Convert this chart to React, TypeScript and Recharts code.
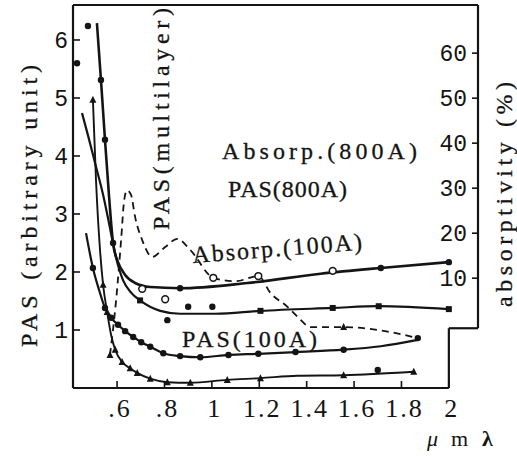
import React from 'react';
import { ComposedChart, Line, Scatter, XAxis, YAxis, ReferenceLine } from 'recharts';

type P = { x: number; y: number };

// ---- tick values / labels ----
const xTicks = [0.6, 0.8, 1, 1.2, 1.4, 1.6, 1.8, 2];
const xTickLabels = ['.6', '.8', '1', '1.2', '1.4', '1.6', '1.8', '2'];
const pasTicks = [1, 2, 3, 4, 5, 6];
const absTicks = [10, 20, 30, 40, 50, 60];

// ---- curves (x = wavelength µm, y = PAS arbitrary unit) ----
const curveTop: P[] = [
  { x: 0.515, y: 6.29 }, { x: 0.532, y: 5.31 }, { x: 0.549, y: 4.28 }, { x: 0.566, y: 3.31 },
  { x: 0.583, y: 2.5 }, { x: 0.604, y: 2.17 }, { x: 0.634, y: 1.95 }, { x: 0.676, y: 1.81 },
  { x: 0.74, y: 1.74 }, { x: 0.866, y: 1.72 }, { x: 1.15, y: 1.81 }, { x: 1.459, y: 1.97 },
  { x: 1.713, y: 2.07 }, { x: 2.0, y: 2.17 },
];
const curveMid: P[] = [
  { x: 0.452, y: 4.74 }, { x: 0.477, y: 4.36 }, { x: 0.507, y: 3.88 }, { x: 0.541, y: 3.33 },
  { x: 0.57, y: 2.76 }, { x: 0.596, y: 2.24 }, { x: 0.625, y: 1.86 }, { x: 0.66, y: 1.64 },
  { x: 0.697, y: 1.51 }, { x: 0.782, y: 1.33 }, { x: 0.866, y: 1.28 }, { x: 1.015, y: 1.28 },
  { x: 1.205, y: 1.33 }, { x: 1.51, y: 1.38 }, { x: 1.704, y: 1.41 }, { x: 2.0, y: 1.36 },
];
const curvePas100: P[] = [
  { x: 0.469, y: 2.67 }, { x: 0.498, y: 2.07 }, { x: 0.524, y: 1.69 }, { x: 0.549, y: 1.38 },
  { x: 0.575, y: 1.21 }, { x: 0.604, y: 1.09 }, { x: 0.634, y: 0.98 }, { x: 0.668, y: 0.88 },
  { x: 0.702, y: 0.79 }, { x: 0.74, y: 0.71 }, { x: 0.795, y: 0.6 }, { x: 0.866, y: 0.55 },
  { x: 0.951, y: 0.53 }, { x: 1.07, y: 0.57 }, { x: 1.196, y: 0.59 }, { x: 1.353, y: 0.62 },
  { x: 1.556, y: 0.66 }, { x: 1.713, y: 0.72 }, { x: 1.869, y: 0.83 },
];
const curveBottom: P[] = [
  { x: 0.498, y: 4.97 }, { x: 0.511, y: 3.59 }, { x: 0.528, y: 2.38 }, { x: 0.541, y: 1.78 },
  { x: 0.558, y: 1.31 }, { x: 0.575, y: 0.91 }, { x: 0.592, y: 0.66 }, { x: 0.621, y: 0.45 },
  { x: 0.655, y: 0.34 }, { x: 0.685, y: 0.26 }, { x: 0.74, y: 0.16 }, { x: 0.812, y: 0.1 },
  { x: 0.909, y: 0.09 }, { x: 1.065, y: 0.14 }, { x: 1.205, y: 0.17 }, { x: 1.361, y: 0.21 },
  { x: 1.556, y: 0.22 }, { x: 1.852, y: 0.28 },
];
const curveMultilayer: P[] = [
  { x: 0.57, y: 0.57 }, { x: 0.596, y: 1.52 }, { x: 0.617, y: 2.55 }, { x: 0.63, y: 3.24 },
  { x: 0.642, y: 3.41 }, { x: 0.659, y: 3.33 }, { x: 0.676, y: 2.95 }, { x: 0.706, y: 2.55 },
  { x: 0.748, y: 2.26 }, { x: 0.803, y: 2.43 }, { x: 0.854, y: 2.57 }, { x: 0.909, y: 2.38 },
  { x: 1.006, y: 1.9 }, { x: 1.099, y: 1.84 }, { x: 1.196, y: 1.93 }, { x: 1.247, y: 1.64 },
  { x: 1.319, y: 1.4 }, { x: 1.366, y: 1.21 }, { x: 1.416, y: 1.05 }, { x: 1.556, y: 1.05 },
  { x: 1.7, y: 1.0 }, { x: 1.869, y: 0.86 },
];

// ---- marker points ----
const dotsFilled: P[] = [
  { x: 0.477, y: 6.24 }, { x: 0.431, y: 5.6 }, { x: 0.532, y: 5.31 }, { x: 0.549, y: 4.28 },
  { x: 0.583, y: 2.5 }, { x: 0.866, y: 1.72 }, { x: 1.713, y: 2.07 }, { x: 2.0, y: 2.17 },
  { x: 0.812, y: 1.17 }, { x: 0.9, y: 1.4 }, { x: 1.002, y: 1.4 }, { x: 1.7, y: 0.31 },
  { x: 0.498, y: 2.07 }, { x: 0.549, y: 1.38 }, { x: 0.575, y: 1.21 }, { x: 0.604, y: 1.09 },
  { x: 0.634, y: 0.98 }, { x: 0.668, y: 0.88 }, { x: 0.702, y: 0.79 }, { x: 0.74, y: 0.71 },
  { x: 0.795, y: 0.6 }, { x: 0.866, y: 0.55 }, { x: 0.951, y: 0.53 }, { x: 1.07, y: 0.57 },
  { x: 1.196, y: 0.59 }, { x: 1.353, y: 0.62 }, { x: 1.556, y: 0.66 }, { x: 1.869, y: 0.86 },
];
const dotsOpen: P[] = [
  { x: 1.51, y: 2.02 }, { x: 0.706, y: 1.71 }, { x: 0.803, y: 1.53 }, { x: 1.006, y: 1.9 },
  { x: 1.196, y: 1.93 },
];
const squaresMid: P[] = [
  { x: 0.697, y: 1.51 }, { x: 1.205, y: 1.33 }, { x: 1.51, y: 1.38 }, { x: 1.704, y: 1.41 },
  { x: 2.0, y: 1.36 },
];
const trianglesBottom: P[] = [
  { x: 0.498, y: 4.97 }, { x: 0.541, y: 1.78 }, { x: 0.558, y: 1.31 }, { x: 0.592, y: 0.66 },
  { x: 0.621, y: 0.45 }, { x: 0.655, y: 0.34 }, { x: 0.685, y: 0.26 }, { x: 0.74, y: 0.16 },
  { x: 0.812, y: 0.1 }, { x: 0.909, y: 0.09 }, { x: 1.065, y: 0.14 }, { x: 1.205, y: 0.17 },
  { x: 1.556, y: 0.22 }, { x: 1.852, y: 0.28 }, { x: 0.57, y: 0.57 }, { x: 1.556, y: 1.05 },
];

// ---- axis extents ----
const X_MIN = 0.414;
const X_MAX = 2.123;
const X_NOTCH = 2;
const PAS_MAX = 6.603;
const ABS_MIN = -14.4;
const ABS_MAX = 70.7;
const NOTCH_PAS = 1.03;

const ink = '#141414';
const mono = '"Liberation Mono", "DejaVu Sans Mono", monospace';
const serif = '"Liberation Serif", "DejaVu Serif", serif';

function LeftTick(props: any) {
  const { x, y, payload } = props;
  return (
    <g>
      <line x1={x} x2={x + 7} y1={y} y2={y} stroke={ink} strokeWidth={1.6} />
      <text x={x - 5} y={y} dy="0.36em" textAnchor="end" fontFamily={mono} fontSize={23} fill={ink}>
        {payload.value}
      </text>
    </g>
  );
}

function RightTick(props: any) {
  const { x, y, payload } = props;
  return (
    <g>
      <line x1={x - 6} x2={x + 1} y1={y} y2={y} stroke={ink} strokeWidth={1.6} />
      <text x={x - 11} y={y} dy="0.36em" textAnchor="end" fontFamily={mono} fontSize={23} fill={ink}>
        {payload.value}
      </text>
    </g>
  );
}

function BottomTick(props: any) {
  const { x, y, payload } = props;
  const i = xTicks.indexOf(payload.value);
  const label = i >= 0 ? xTickLabels[i] : String(payload.value);
  return (
    <g>
      <line x1={x} x2={x} y1={y - 7} y2={y} stroke={ink} strokeWidth={1.6} />
      <text x={x + 3} y={y + 29} textAnchor="middle" fontFamily={serif} fontSize={26} letterSpacing={2} fill={ink}>
        {label}
      </text>
    </g>
  );
}

const dotShape = (p: any) => <circle cx={p.cx} cy={p.cy} r={3.2} fill={ink} />;
const openShape = (p: any) => <circle cx={p.cx} cy={p.cy} r={3.4} fill="#fff" stroke={ink} strokeWidth={1.5} />;
const squareShape = (p: any) => <rect x={p.cx - 3} y={p.cy - 3} width={6} height={6} fill={ink} />;
const triShape = (p: any) => (
  <path d={`M${p.cx},${p.cy - 4} L${p.cx + 3.5},${p.cy + 3} L${p.cx - 3.5},${p.cy + 3} Z`} fill={ink} />
);

const lineCommon = {
  xAxisId: 'x',
  yAxisId: 'pas',
  dataKey: 'y',
  type: 'monotone' as const,
  stroke: ink,
  dot: false,
  activeDot: false,
  isAnimationActive: false,
};

const frame = { stroke: ink, strokeWidth: 2.2, xAxisId: 'x', yAxisId: 'pas', ifOverflow: 'visible' as const };

const lbl = { lengthAdjust: 'spacing' as const };

export default function App() {
  return (
    <div style={{ position: 'absolute', left: 0, top: 0, width: 517, height: 463, background: '#fff' }}>
      <ComposedChart width={517} height={463} margin={{ top: 5, right: 0, bottom: 0, left: 0 }}>
        <XAxis
          xAxisId="x"
          dataKey="x"
          type="number"
          domain={[X_MIN, X_MAX]}
          allowDataOverflow
          ticks={xTicks}
          interval={0}
          height={75}
          axisLine={false}
          tickLine={false}
          tickSize={0}
          tickMargin={0}
          tick={<BottomTick />}
        />
        <YAxis
          yAxisId="pas"
          dataKey="y"
          type="number"
          domain={[0, PAS_MAX]}
          allowDataOverflow
          ticks={pasTicks}
          interval={0}
          width={73}
          axisLine={{ stroke: ink, strokeWidth: 2.2 }}
          tickLine={false}
          tickSize={0}
          tickMargin={0}
          tick={<LeftTick />}
        />
        <YAxis
          yAxisId="abs"
          orientation="right"
          type="number"
          domain={[ABS_MIN, ABS_MAX]}
          allowDataOverflow
          ticks={absTicks}
          interval={0}
          width={39}
          axisLine={false}
          tickLine={false}
          tickSize={0}
          tickMargin={0}
          tick={<RightTick />}
        />

        <ReferenceLine {...frame} segment={[{ x: X_MIN, y: PAS_MAX }, { x: X_MAX, y: PAS_MAX }]} />
        <ReferenceLine {...frame} segment={[{ x: X_MAX, y: NOTCH_PAS }, { x: X_MAX, y: PAS_MAX }]} />
        <ReferenceLine {...frame} segment={[{ x: X_NOTCH, y: NOTCH_PAS }, { x: X_MAX, y: NOTCH_PAS }]} />
        <ReferenceLine {...frame} segment={[{ x: X_NOTCH, y: 0 }, { x: X_NOTCH, y: NOTCH_PAS }]} />
        <ReferenceLine {...frame} segment={[{ x: X_MIN, y: 0 }, { x: X_NOTCH, y: 0 }]} />

        <Line {...lineCommon} data={curveTop} strokeWidth={2.6} />
        <Line {...lineCommon} data={curveMid} strokeWidth={2.2} />
        <Line {...lineCommon} data={curvePas100} strokeWidth={2.2} />
        <Line {...lineCommon} data={curveBottom} strokeWidth={1.9} />
        <Line {...lineCommon} data={curveMultilayer} strokeWidth={1.8} strokeDasharray="7 5" />

        <Scatter xAxisId="x" yAxisId="pas" dataKey="y" data={dotsFilled} shape={dotShape} isAnimationActive={false} />
        <Scatter xAxisId="x" yAxisId="pas" dataKey="y" data={dotsOpen} shape={openShape} isAnimationActive={false} />
        <Scatter xAxisId="x" yAxisId="pas" dataKey="y" data={squaresMid} shape={squareShape} isAnimationActive={false} />
        <Scatter xAxisId="x" yAxisId="pas" dataKey="y" data={trianglesBottom} shape={triShape} isAnimationActive={false} />
      </ComposedChart>

      <svg width={517} height={463} style={{ position: 'absolute', left: 0, top: 0, pointerEvents: 'none' }}>
        <g fontFamily={serif} fontSize={24} fill={ink} stroke={ink} strokeWidth={0.3}>
          <text x={222} y={159} textLength={195} {...lbl}>Absorp.(800A)</text>
          <text x={228} y={197} textLength={119} {...lbl}>PAS(800A)</text>
          <text x={193} y={263} textLength={170} {...lbl} transform="rotate(-4.5 193 263)">Absorp.(100A)</text>
          <text x={182} y={347} textLength={135} {...lbl}>PAS(100A)</text>
          <text transform="translate(169 230) rotate(-90)" textLength={222} {...lbl}>PAS(multilayer)</text>
          <text transform="translate(37 347) rotate(-90)" textLength={282} {...lbl}>PAS (arbitrary unit)</text>
          <text transform="translate(512 307) rotate(-90)" textLength={225} {...lbl}>absorptivity (%)</text>
        </g>
        <g fontFamily={serif} fontSize={22} fill={ink}>
          <text x={427} y={446} fontStyle="italic">μ</text>
          <text x={451} y={446}>m</text>
          <text x={482} y={446} fontWeight="bold">λ</text>
        </g>
      </svg>
    </div>
  );
}
